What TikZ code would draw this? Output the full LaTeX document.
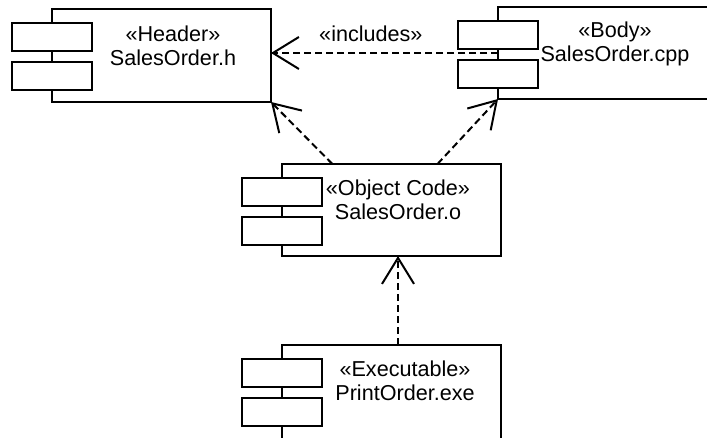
\documentclass[tikz,border=0pt]{standalone}
\usepackage{fontspec}
\setmainfont{Liberation Sans}
\usetikzlibrary{positioning,calc,arrows.meta}

\begin{document}
\begin{tikzpicture}[
  x=0.5pt, y=-0.5pt,
  line width=1pt,
  comp/.style={rectangle, draw, inner sep=0pt, outer sep=0pt, minimum width=109.5pt},
  part/.style={rectangle, draw, fill=white, inner sep=0pt, outer sep=0pt,
    minimum width=40pt, minimum height=14pt},
  lbl/.style={align=center, font=\fontsize{10.8}{12}\selectfont, inner sep=0pt},
  dep/.style={dash pattern=on 3.5pt off 2pt, -{Straight Barb[length=13pt,width=16pt]}}
]
  \useasboundingbox (0,0) rectangle (707,438);

  % components
  \node[comp, minimum height=46.5pt] (hdr) at (161.5,55.5) {};
  \node[comp, draw=none, minimum height=46pt] (body) at (607.5,53) {};
  \node[comp, minimum height=46pt] (obj) at (391.5,210) {};
  \node[comp, minimum height=60pt] (exe) at (391.5,405) {};
  % body runs off the page to the right
  \draw (body.north -| 800,0) -- (body.north west) -- (body.south west)
    -- (body.south -| 800,0);

  \foreach \c in {hdr,body,obj,exe} {
    \node[part] (\c p1) at ($(\c.north west)+(0,-14pt)$) {};
    \node[part, below=5.5pt of \c p1] (\c p2) {};
  }

  % names
  \node[lbl] (hdrtxt) at (173,46) {«Header»\\SalesOrder.h};
  \node[lbl] (bodytxt) at (615,43.5) {«Body»\\SalesOrder.cpp};
  \node[lbl] (objtxt) at (398,199.5) {«Object Code»\\SalesOrder.o};
  \node[lbl] (exetxt) at (405,380.5) {«Executable»\\PrintOrder.exe};

  % dependencies
  \coordinate (objL) at ($(obj.north west)!0.23!(obj.north east)$);
  \coordinate (objR) at ($(obj.north west)!0.71!(obj.north east)$);
  \draw[dep] (body.west) -- (hdr.east |- body.west)
    node[lbl, pos=0.56, above=5pt] (inc) {«includes»};
  \draw[dep] (objL) -- (hdr.south east);
  \draw[dep] (objR) -- (body.south west);
  \draw[dep] (exe.north -| objtxt) -- (obj.south -| objtxt);
\end{tikzpicture}
\end{document}
